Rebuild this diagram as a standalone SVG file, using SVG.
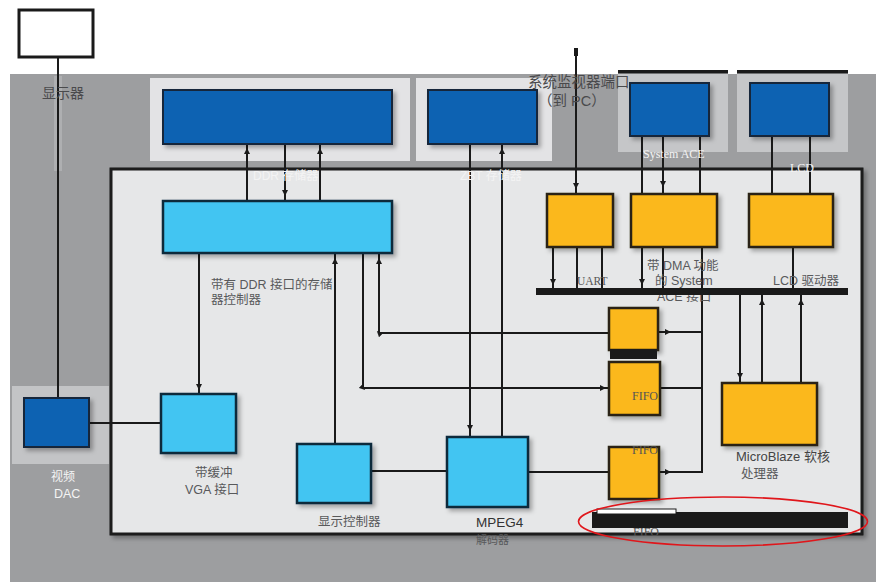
<svg xmlns="http://www.w3.org/2000/svg" width="876" height="582" viewBox="0 0 876 582">
<defs>
<style>
.bg{fill:#9d9ea0}
.panel{fill:#e6e7e8;stroke:#1a1a1a;stroke-width:3}
.frame{fill:#e3e3e5}
.frame2{fill:#c5c6c8}
.dk{fill:#0a62b2;stroke:#13263a;stroke-width:2}
.lb{fill:#43c5f2;stroke:#0f2a3b;stroke-width:2.5}
.yl{fill:#fbb81b;stroke:#2b2116;stroke-width:2.5}
.ln{fill:none;stroke:#1a1a1a;stroke-width:2}
.bar{fill:#1a1a1a}
.t{font-family:"Liberation Sans","Noto Sans CJK SC",sans-serif;font-size:12.5px;fill:#58595b}
.tw{font-family:"Liberation Sans","Noto Sans CJK SC",sans-serif;font-size:12px;fill:#f4f4f4}
.sw{font-family:"Liberation Serif","Noto Sans CJK SC",serif;font-size:12px;fill:#f4f4f4}
.s{font-family:"Liberation Serif","Noto Sans CJK SC",serif;font-size:12px;fill:#555}
.big{font-family:"Liberation Sans","Noto Sans CJK SC",sans-serif;font-size:14.5px;fill:#4a4a4c}
</style>
<filter id="sh" x="-10%" y="-10%" width="130%" height="130%">
<feDropShadow dx="3" dy="3" stdDeviation="2" flood-color="#000" flood-opacity="0.3"/>
</filter>
<marker id="a" viewBox="0 0 6 6" refX="3" refY="3" markerWidth="6" markerHeight="6" markerUnits="userSpaceOnUse" orient="auto">
<path d="M0,0 L6,3 L0,6 z" fill="#1a1a1a"/>
</marker>
</defs>

<!-- background -->
<rect x="0" y="0" width="876" height="582" fill="#ffffff"/>
<rect class="bg" x="10" y="74" width="866" height="508"/>
<rect x="54" y="76" width="8" height="95" fill="#aeafb1"/>

<!-- top frames -->
<rect class="frame" x="150" y="78" width="260" height="83"/>
<rect class="frame" x="416" y="78" width="136" height="83"/>
<rect class="frame2" x="618" y="73" width="110" height="79"/>
<rect class="frame2" x="737" y="73" width="111" height="79"/>
<rect class="bar" x="618" y="70" width="110" height="3.5"/>
<rect class="bar" x="737" y="70" width="111" height="3.5"/>
<rect x="12" y="386" width="97" height="78" fill="#c3c4c6"/>

<!-- inner panel -->
<rect class="panel" x="111" y="169" width="751" height="365" filter="url(#sh)"/>

<!-- connectors -->
<g id="connectors" class="ln">
<path d="M58,57 V398"/>
<path d="M576,48 V186 V194" marker-mid="url(#a)"/>
<path d="M576,48 V56" stroke-width="4"/>
<path d="M247,200 V151 V144" marker-mid="url(#a)"/>
<path d="M285,144 V193 V200" marker-mid="url(#a)"/>
<path d="M320,200 V151 V144" marker-mid="url(#a)"/>
<path d="M470,144 V428 V436" marker-mid="url(#a)"/>
<path d="M502,436 V151 V144" marker-mid="url(#a)"/>
<path d="M199,253 V387 V394" marker-mid="url(#a)"/>
<path d="M335,444 V261 V253" marker-mid="url(#a)"/>
<path d="M363,253 V388 H603 H609" marker-mid="url(#a)"/>
<path d="M609,333 H379 V261 V253" marker-mid="url(#a)"/>
<path d="M658,332 H668 H703" marker-mid="url(#a)"/>
<path d="M660,388 H703"/>
<path d="M659,472 H668 H703" marker-mid="url(#a)"/>
<path d="M702,247 V472"/>
<path d="M528,472 H609"/>
<path d="M372,471 H447"/>
<path d="M161,423 H89"/>
<path d="M553,247 V282 V288" marker-mid="url(#a)"/>
<path d="M577,247 V288"/>
<path d="M602,247 V288"/>
<path d="M642,247 V282 V288" marker-mid="url(#a)"/>
<path d="M663,247 V288"/>
<path d="M793,247 V288"/>
<path d="M642,136 V194"/>
<path d="M663,136 V184 V194" marker-mid="url(#a)"/>
<path d="M700,136 V194"/>
<path d="M772,136 V194"/>
<path d="M810,136 V194"/>
<path d="M740,295 V376 V382" marker-mid="url(#a)"/>
<path d="M762,382 V302 V295" marker-mid="url(#a)"/>
<path d="M801,382 V302 V295" marker-mid="url(#a)"/>
</g>

<!-- nodes -->
<g id="monitor">
<rect x="19" y="10" width="74" height="47" fill="#fff" stroke="#1a1a1a" stroke-width="3"/>
<text class="big" x="42" y="98" style="font-size:14px">显示器</text>
</g>
<g id="ddr-mem">
<rect class="dk" x="163" y="90" width="229" height="54" filter="url(#sh)"/>
<text class="tw" x="253" y="180">DDR 存储器</text>
</g>
<g id="zbt-mem">
<rect class="dk" x="428" y="90" width="109" height="54" filter="url(#sh)"/>
<text class="tw" x="460" y="180">ZBT 存储器</text>
</g>
<g id="sysmon">
<text class="big" x="528" y="87">系统监视器端口</text>
<text class="big" x="538" y="106">（到 PC）</text>
</g>
<g id="sysace">
<rect class="dk" x="630" y="83" width="79" height="53" filter="url(#sh)"/>
<text class="sw" x="643" y="158">System ACE</text>
</g>
<g id="lcd">
<rect class="dk" x="750" y="83" width="79" height="53" filter="url(#sh)"/>
<text class="sw" x="790" y="172">LCD</text>
</g>
<g id="ddr-ctrl">
<rect class="lb" x="163" y="201" width="229" height="52" filter="url(#sh)"/>
<text class="t" x="211" y="289">带有 DDR 接口的存储</text>
<text class="t" x="211" y="304">器控制器</text>
</g>
<g id="dac">
<rect class="dk" x="24" y="398" width="65" height="49" filter="url(#sh)"/>
<text class="tw" x="51" y="481">视频</text>
<text class="tw" x="54" y="498" style="font-size:12.5px">DAC</text>
</g>
<g id="vga">
<rect class="lb" x="161" y="394" width="75" height="59" filter="url(#sh)"/>
<text class="t" x="195" y="477">带缓冲</text>
<text class="t" x="185" y="494">VGA 接口</text>
</g>
<g id="disp-ctrl">
<rect class="lb" x="297" y="444" width="74" height="59" filter="url(#sh)"/>
<text class="t" x="318" y="526">显示控制器</text>
</g>
<g id="mpeg4">
<rect class="lb" x="447" y="437" width="81" height="70" filter="url(#sh)"/>
<text class="t" x="476" y="527" style="font-size:13.5px;fill:#333">MPEG4</text>
<text class="t" x="476" y="544" style="font-size:11px">解码器</text>
</g>
<g id="uart">
<rect class="yl" x="547" y="194" width="66" height="53" filter="url(#sh)"/>
<text class="s" x="577" y="285" style="font-size:11.5px">UART</text>
</g>
<g id="sysace-if">
<rect class="yl" x="631" y="194" width="86" height="53" filter="url(#sh)"/>
<text class="t" x="647" y="270">带 DMA 功能</text>
<text class="t" x="655" y="285">的 System</text>
<text class="t" x="657" y="301">ACE 接口</text>
</g>
<g id="lcd-drv">
<rect class="yl" x="749" y="194" width="84" height="53" filter="url(#sh)"/>
<text class="t" x="773" y="285">LCD 驱动器</text>
</g>
<g id="bus">
<rect class="bar" x="536" y="288" width="312" height="7"/>
</g>
<g id="fifo1">
<rect class="yl" x="609" y="308" width="49" height="42" filter="url(#sh)"/>
<rect class="bar" x="610" y="349" width="47" height="10"/>
</g>
<g id="fifo2">
<rect class="yl" x="609" y="362" width="51" height="53" filter="url(#sh)"/>
<text class="s" x="632" y="400">FIFO</text>
</g>
<g id="fifo3">
<rect class="yl" x="609" y="447" width="50" height="52" filter="url(#sh)"/>
<text class="s" x="632" y="454">FIFO</text>
</g>
<g id="microblaze">
<rect class="yl" x="722" y="383" width="95" height="62" filter="url(#sh)"/>
<text class="t" x="736" y="461" style="font-size:13px;fill:#444">MicroBlaze 软核</text>
<text class="t" x="741" y="478">处理器</text>
</g>
<g id="bottom-bus">
<text class="s" x="633" y="536">FIFO</text>
<rect class="bar" x="592" y="512" width="256" height="16"/>
<rect x="597" y="509" width="79" height="5" fill="#ffffff" stroke="#1a1a1a" stroke-width="1"/>
<ellipse cx="723" cy="521.5" rx="144.5" ry="24.5" fill="none" stroke="#e0161b" stroke-width="1.6"/>
</g>
</svg>
